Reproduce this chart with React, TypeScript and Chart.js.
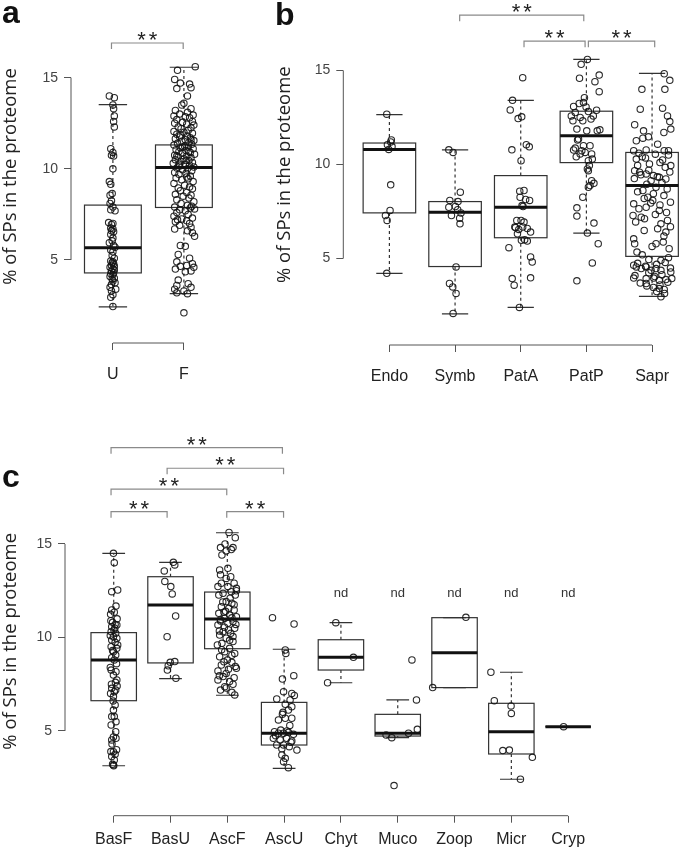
import React, { useEffect, useRef } from "react";
import { Chart, registerables } from "chart.js";
Chart.register(...registerables);

// ---------------- shared ----------------
const yTicks = [5, 10, 15];
const yTitle = "% of SPs in the proteome";

// ---------------- panel a ----------------
const catsA = ["U", "F"];
// [lower whisker, Q1, median, Q3, upper whisker]
const boxA = [
  [2.43, 4.29, 5.67, 8.01, 13.52],
  [3.16, 7.88, 10.07, 11.31, 15.57],
];
// [jitter (category units), value]
const ptsU = [
  [-0.05, 14.0], [0.02, 13.9], [0.0, 13.5], [0.01, 13.3], [0.02, 12.9], [0.01, 12.6], [0.02, 12.3], [-0.03, 11.1],
  [0.0, 10.9], [-0.02, 10.75], [0.01, 10.7], [0.0, 10.0], [-0.05, 9.3], [-0.03, 9.15], [-0.01, 8.65], [-0.04, 8.55],
  [-0.02, 8.25], [-0.04, 8.1], [0.0, 7.9], [-0.03, 7.75], [0.03, 7.7], [-0.06, 7.05], [0.0, 7.0], [-0.02, 6.95],
  [-0.03, 6.75], [0.0, 6.7], [-0.02, 6.6], [0.01, 6.55], [-0.03, 6.4], [0.0, 6.2], [-0.01, 6.05], [-0.05, 5.95],
  [0.01, 5.8], [0.03, 5.7], [-0.03, 5.55], [0.0, 5.45], [-0.01, 5.25], [0.02, 5.1], [-0.03, 4.95], [0.0, 4.9],
  [-0.01, 4.85], [0.01, 4.8], [-0.02, 4.7], [0.02, 4.65], [-0.04, 4.6], [0.0, 4.5], [0.02, 4.45], [-0.02, 4.4],
  [0.01, 4.3], [-0.03, 4.25], [0.0, 4.2], [-0.04, 4.1], [0.02, 4.0], [-0.01, 3.95], [0.0, 3.85], [0.03, 3.75],
  [-0.02, 3.65], [-0.04, 3.5], [0.04, 3.4], [-0.02, 3.3], [0.0, 3.1], [-0.03, 2.95], [0.0, 2.45],
];
const ptsF = [
  [0.16, 15.6], [-0.09, 15.4], [-0.13, 14.9], [-0.05, 14.7], [0.08, 14.65], [0.1, 14.45], [-0.1, 14.4], [0.05, 14.0],
  [0.0, 13.6], [-0.03, 13.5], [0.1, 13.3], [-0.12, 13.2], [0.05, 13.1], [-0.06, 13.0], [0.13, 12.95], [-0.14, 12.9],
  [0.02, 12.85], [0.08, 12.8], [-0.1, 12.7], [0.12, 12.6], [-0.02, 12.55], [-0.13, 12.5], [0.04, 12.45], [0.14, 12.4],
  [-0.08, 12.3], [0.1, 12.25], [-0.04, 12.2], [0.06, 12.1], [-0.14, 12.05], [0.0, 12.0], [0.12, 11.95], [-0.1, 11.9],
  [0.05, 11.8], [-0.06, 11.75], [0.09, 11.7], [-0.12, 11.65], [0.02, 11.6], [0.14, 11.55], [-0.03, 11.5], [0.07, 11.45],
  [-0.09, 11.4], [0.11, 11.35], [-0.14, 11.3], [0.01, 11.25], [0.06, 11.2], [-0.05, 11.15], [0.13, 11.1], [-0.11, 11.05],
  [0.03, 11.0], [-0.07, 10.95], [0.09, 10.9], [-0.02, 10.85], [0.15, 10.8], [-0.13, 10.75], [0.04, 10.7], [-0.08, 10.65],
  [0.1, 10.6], [0.0, 10.55], [-0.12, 10.5], [0.07, 10.45], [-0.04, 10.4], [0.12, 10.35], [-0.15, 10.3], [0.02, 10.25],
  [0.08, 10.2], [-0.06, 10.15], [0.14, 10.1], [-0.1, 10.05], [0.05, 10.0], [-0.02, 9.95], [0.11, 9.9], [-0.13, 9.8],
  [0.03, 9.75], [-0.07, 9.7], [0.09, 9.6], [-0.11, 9.5], [0.06, 9.45], [-0.03, 9.4], [0.13, 9.3], [-0.14, 9.2],
  [0.01, 9.1], [0.08, 9.0], [-0.08, 8.95], [0.12, 8.9], [-0.05, 8.8], [0.04, 8.7], [-0.12, 8.6], [0.1, 8.55],
  [-0.01, 8.5], [0.07, 8.4], [-0.1, 8.3], [0.14, 8.2], [-0.04, 8.1], [0.05, 8.0], [0.11, 7.95], [-0.13, 7.9],
  [0.09, 7.85], [0.15, 7.8], [-0.06, 7.75], [0.02, 7.7], [-0.1, 7.6], [0.06, 7.5], [-0.14, 7.4], [0.12, 7.3],
  [-0.03, 7.25], [-0.09, 7.2], [0.04, 7.15], [-0.12, 7.1], [0.08, 7.0], [-0.06, 6.9], [0.1, 6.8], [-0.13, 6.7],
  [0.05, 6.6], [0.12, 6.5], [0.15, 6.3], [-0.05, 5.8], [0.02, 5.75], [-0.08, 5.3], [0.08, 5.1], [-0.1, 4.9],
  [0.12, 4.8], [0.04, 4.7], [-0.05, 4.65], [0.14, 4.6], [-0.12, 4.5], [0.1, 4.4], [0.02, 4.35], [-0.08, 3.9],
  [0.06, 3.7], [-0.1, 3.6], [0.1, 3.5], [-0.13, 3.4], [0.0, 3.3], [-0.1, 3.2], [0.05, 3.15], [0.0, 2.1],
  [-0.02, 11.2], [0.07, 10.95], [-0.1, 10.7], [0.03, 10.45], [-0.07, 10.25], [0.1, 11.6], [-0.05, 11.85], [0.04, 9.55],
];
// [from category, to category, level]
const bracketsA = [[0.98, 1.99, 16.9]];

// ---------------- panel b ----------------
const catsB = ["Endo", "Symb", "PatA", "PatP", "Sapr"];
const boxB = [
  [4.22, 7.43, 10.8, 11.14, 12.65],
  [2.07, 4.58, 7.47, 8.03, 10.78],
  [2.41, 6.11, 7.73, 9.41, 13.41],
  [6.36, 10.1, 11.52, 12.83, 15.58],
  [3.0, 5.12, 8.88, 10.64, 14.84],
];
const ptsEndo = [
  [-0.04, 12.67], [0.03, 11.3], [0.02, 11.2], [-0.03, 11.05], [0.04, 10.95], [-0.01, 10.8], [0.02, 8.92],
  [0.01, 7.56], [-0.06, 7.29], [-0.035, 7.03], [-0.04, 4.22],
];
const ptsSymb = [
  [-0.095, 10.78], [-0.03, 10.64], [0.08, 8.53], [-0.08, 8.09], [0.045, 8.03], [0.005, 7.77], [-0.095, 7.73],
  [0.04, 7.6], [0.09, 7.43], [-0.055, 7.29], [0.07, 7.15], [0.075, 6.85], [0.015, 4.56], [-0.085, 3.68],
  [-0.035, 3.5], [0.015, 3.15], [-0.03, 2.09],
];
const ptsPatA = [
  [0.03, 14.61], [-0.125, 13.41], [-0.16, 12.9], [-0.04, 12.44], [0.015, 12.53], [-0.135, 10.78], [0.005, 10.2],
  [0.085, 11.05], [0.13, 10.94], [0.05, 8.62], [-0.015, 8.58], [-0.01, 8.26], [0.075, 8.14], [0.135, 8.09],
  [0.02, 7.82], [0.035, 7.77], [-0.06, 7.03], [0.005, 7.03], [0.05, 6.94], [-0.09, 6.68], [0.03, 6.68],
  [-0.05, 6.32], [0.15, 6.41], [0.01, 5.97], [0.1, 5.93], [-0.18, 5.58], [0.15, 5.09], [0.175, 4.82],
  [-0.13, 3.94], [-0.1, 3.59], [0.15, 3.98], [-0.02, 2.41], [-0.03, 6.55], [0.1, 6.6], [0.06, 6.0], [-0.08, 6.65],
];
const ptsPatP = [
  [0.015, 15.58], [-0.08, 15.32], [-0.105, 14.58], [0.195, 14.75], [0.13, 14.4], [0.195, 13.87], [-0.03, 13.55],
  [-0.045, 13.29], [-0.195, 13.08], [-0.11, 13.24], [-0.005, 13.06], [0.155, 12.88], [-0.17, 12.76], [0.03, 12.81],
  [0.105, 12.58], [-0.23, 12.58], [-0.095, 12.5], [0.07, 12.41], [-0.205, 12.32], [-0.055, 12.32], [-0.145, 11.88],
  [0.005, 11.79], [0.165, 11.79], [0.205, 11.84], [-0.12, 11.35], [-0.135, 11.3], [-0.17, 10.87], [-0.045, 11.0],
  [0.055, 11.0], [-0.195, 10.77], [-0.07, 10.73], [-0.02, 10.64], [0.08, 10.56], [-0.155, 10.41], [-0.095, 10.56],
  [0.03, 10.2], [0.09, 10.29], [0.045, 9.94], [0.015, 9.76], [0.03, 9.67], [0.08, 9.14], [0.115, 9.0],
  [0.055, 8.88], [0.03, 8.79], [-0.055, 8.26], [-0.145, 7.7], [-0.145, 7.26], [0.115, 6.89], [0.015, 6.36],
  [0.18, 5.79], [0.09, 4.77], [-0.145, 3.82],
];
const ptsSapr = [
  [0.185, 14.82], [0.27, 14.47], [-0.155, 13.99], [0.195, 13.99], [-0.18, 12.94], [0.16, 12.99], [0.235, 12.58],
  [0.27, 12.28], [-0.265, 12.11], [0.285, 11.88], [0.18, 11.7], [-0.13, 11.79], [-0.24, 11.26], [-0.14, 11.4],
  [-0.055, 11.47], [0.085, 11.08], [-0.28, 10.73], [-0.09, 10.77], [-0.24, 10.29], [0.185, 10.73], [0.25, 10.73],
  [0.16, 10.24], [0.285, 9.94], [-0.15, 10.41], [-0.04, 10.03], [-0.265, 9.67], [-0.19, 9.59], [-0.09, 9.5],
  [0.02, 9.41], [-0.015, 9.14], [0.11, 9.32], [0.21, 9.23], [0.06, 8.79], [-0.14, 8.62], [-0.065, 8.26],
  [0.01, 8.09], [-0.28, 7.91], [-0.09, 7.73], [0.11, 7.56], [-0.29, 7.29], [-0.165, 7.2], [-0.115, 7.12],
  [0.135, 6.85], [0.235, 7.03], [0.085, 6.59], [0.21, 6.41], [-0.265, 5.79], [0.06, 5.79], [0.17, 5.88],
  [0.26, 5.53], [-0.23, 5.35], [0.135, 4.91], [-0.28, 4.65], [-0.24, 4.56], [-0.165, 4.47], [-0.09, 4.56],
  [-0.015, 4.38], [0.06, 4.47], [0.135, 4.38], [0.285, 4.29], [-0.28, 3.97], [-0.09, 3.94], [0.025, 3.97],
  [0.11, 3.85], [0.21, 3.89], [0.3, 3.94], [-0.09, 3.68], [0.02, 3.47], [0.11, 3.41], [0.185, 3.36], [0.135, 2.97],
  [-0.2, 10.6], [0.05, 10.55], [0.25, 10.5], [-0.1, 10.35], [0.12, 10.1], [-0.22, 9.95], [0.2, 9.85], [-0.05, 9.7],
  [0.27, 9.6], [-0.17, 9.45], [0.08, 9.35], [-0.27, 9.25], [0.15, 9.05], [-0.08, 8.95], [0.23, 8.7], [-0.22, 8.55],
  [0.02, 8.45], [0.18, 8.35], [-0.12, 8.2], [0.28, 8.0], [-0.02, 7.95], [0.12, 7.85], [-0.2, 7.65], [0.22, 7.45],
  [0.05, 7.35], [-0.25, 6.95], [0.28, 6.7], [-0.12, 6.5], [0.18, 6.2], [-0.28, 6.05], [0.0, 5.65], [-0.15, 5.2],
  [0.25, 5.05], [-0.05, 4.95], [0.2, 4.8], [-0.22, 4.75], [0.07, 4.7], [-0.1, 4.6], [0.28, 4.5], [-0.05, 4.25],
  [0.15, 4.15], [-0.26, 4.1], [0.04, 4.05], [0.24, 3.75], [-0.18, 3.7], [0.12, 3.6], [-0.08, 3.55], [0.07, 3.25],
  [0.19, 3.15],
];
const bracketsB = [
  [2.07, 3.96, 17.93],
  [3.05, 3.98, 16.55],
  [4.03, 5.04, 16.55],
];

// ---------------- panel c ----------------
const catsC = ["BasF", "BasU", "AscF", "AscU", "Chyt", "Muco", "Zoop", "Micr", "Cryp"];
const boxC = [
  [3.14, 6.62, 8.8, 10.26, 14.5],
  [7.8, 8.64, 11.74, 13.25, 14.02],
  [6.91, 9.4, 10.99, 12.43, 15.6],
  [3.0, 4.25, 4.88, 6.53, 9.37],
  [7.58, 8.26, 8.94, 9.88, 10.79],
  [4.64, 4.73, 4.88, 5.89, 6.66],
  [7.32, 7.32, 9.19, 11.06, 11.06],
  [2.42, 3.77, 4.96, 6.48, 8.14],
  [5.23, 5.23, 5.23, 5.23, 5.23],
];
const ptsBasF = [
  [-0.005, 14.5], [0.01, 14.0], [-0.035, 12.45], [0.07, 12.54], [0.04, 11.68], [-0.035, 11.47], [0.01, 11.35],
  [-0.055, 11.24], [-0.02, 10.81], [0.025, 10.7], [-0.035, 10.58], [0.055, 10.67], [0.005, 10.4], [-0.045, 10.31],
  [0.035, 10.22], [-0.005, 10.04], [0.055, 9.96], [-0.035, 9.87], [0.025, 9.74], [-0.045, 9.51], [0.055, 9.42],
  [-0.005, 9.24], [0.035, 9.06], [-0.035, 8.92], [0.01, 8.8], [-0.045, 8.26], [0.04, 8.17], [-0.005, 7.99],
  [0.055, 7.73], [-0.035, 7.28], [0.035, 7.19], [-0.055, 7.01], [0.01, 7.1], [-0.005, 6.84], [0.025, 6.39],
  [-0.005, 6.12], [-0.035, 5.77], [0.01, 5.77], [-0.045, 5.32], [0.035, 4.96], [-0.005, 4.68], [-0.035, 4.52],
  [0.04, 4.61], [-0.005, 3.89], [0.025, 3.75], [-0.035, 3.63], [0.01, 3.45], [-0.02, 3.22], [-0.005, 3.18],
  [0.06, 11.0], [-0.05, 10.9], [0.02, 10.5], [-0.06, 10.1], [0.07, 9.6], [-0.02, 9.3], [0.05, 8.6], [-0.06, 8.4],
  [0.03, 7.6], [-0.04, 7.5], [0.06, 7.4], [-0.01, 6.6], [0.04, 5.5], [-0.03, 4.3], [0.05, 4.0], [-0.05, 3.9],
  [0.0, 3.14],
];
const ptsBasU = [
  [0.05, 14.02], [0.075, 13.88], [-0.11, 13.56], [-0.1, 13.0], [0.005, 12.72], [0.03, 12.33], [0.09, 11.15],
  [-0.06, 10.04], [-0.005, 8.67], [0.075, 8.71], [-0.04, 8.49], [-0.055, 8.26], [0.095, 7.82],
];
const ptsAscF = [
  [0.03, 15.62], [0.14, 15.34], [-0.12, 14.81], [-0.02, 14.63], [0.1, 14.81], [-0.095, 14.41], [0.01, 13.7],
  [-0.135, 13.61], [0.06, 13.25], [-0.02, 13.16], [0.12, 12.9], [-0.105, 12.9], [-0.165, 12.72], [0.01, 12.72],
  [0.16, 12.63], [-0.075, 12.36], [0.07, 12.45], [-0.15, 12.27], [0.14, 12.27], [-0.02, 11.92], [0.08, 11.83],
  [-0.105, 11.65], [0.025, 11.56], [0.12, 11.47], [-0.06, 11.35], [-0.15, 11.29], [0.04, 11.2], [0.16, 11.11],
  [-0.045, 11.03], [-0.12, 10.88], [0.1, 10.85], [0.01, 10.76], [-0.165, 10.67], [0.13, 10.49], [-0.075, 10.31],
  [0.06, 10.22], [-0.135, 10.13], [-0.02, 9.96], [0.1, 9.78], [-0.095, 9.69], [-0.175, 9.6], [0.04, 9.42],
  [-0.045, 9.24], [0.13, 9.15], [-0.135, 8.97], [0.0, 8.8], [0.08, 8.67], [-0.105, 8.53], [0.16, 8.35],
  [-0.165, 8.21], [-0.02, 8.08], [-0.075, 7.91], [0.12, 7.85], [-0.165, 7.73], [0.04, 7.64], [-0.045, 7.37],
  [-0.12, 7.19], [0.08, 7.07], [0.13, 6.93], [0.05, 12.1], [-0.08, 11.9], [0.12, 11.75], [-0.03, 11.4],
  [0.08, 11.05], [-0.12, 10.95], [0.15, 10.7], [-0.05, 10.55], [0.02, 10.4], [-0.14, 10.35], [0.1, 10.05],
  [0.04, 9.85], [-0.1, 9.35], [0.08, 9.05], [-0.06, 8.7], [0.14, 8.45], [0.02, 8.3], [-0.14, 7.95], [0.1, 7.5],
  [-0.02, 7.3], [0.16, 12.5], [-0.12, 13.35], [0.07, 14.7], [-0.04, 15.0],
];
const ptsAscU = [
  [-0.205, 11.06], [0.175, 10.72], [0.02, 9.33], [0.03, 9.15], [-0.03, 7.78], [0.17, 7.96], [-0.01, 7.1],
  [0.135, 7.01], [-0.13, 6.71], [0.105, 6.66], [0.02, 6.43], [0.135, 6.3], [0.075, 6.12], [-0.03, 5.89],
  [0.02, 5.68], [-0.1, 5.59], [0.135, 5.68], [-0.17, 4.96], [-0.1, 4.88], [-0.01, 4.88], [0.075, 4.93],
  [0.165, 4.82], [-0.19, 4.61], [-0.07, 4.52], [0.045, 4.61], [0.135, 4.47], [-0.13, 4.25], [-0.01, 4.25],
  [0.09, 4.16], [0.225, 3.98], [-0.04, 3.72], [0.02, 3.54], [-0.01, 3.36], [0.075, 3.04], [0.1, 5.3],
  [-0.06, 5.05], [0.05, 5.0], [-0.15, 4.75], [0.12, 4.4], [-0.04, 4.05], [0.18, 6.9], [-0.02, 6.0],
];
const ptsChyt = [[-0.09, 10.79], [0.22, 8.94], [-0.235, 7.58]];
const ptsMuco = [[0.25, 8.8], [0.33, 6.66], [0.345, 5.09], [0.19, 4.88], [-0.105, 4.64], [-0.205, 4.79], [-0.065, 2.08]];
const ptsZoop = [[0.2, 11.08], [-0.385, 7.32]];
const ptsMicr = [[-0.36, 8.14], [-0.3, 6.62], [-0.005, 6.34], [0.0, 5.94], [-0.15, 3.95], [-0.035, 3.98], [0.37, 3.59], [0.16, 2.42]];
const ptsCryp = [[-0.08, 5.23]];
const bracketsC = [
  [0.953, 3.97, 20.15],
  [1.94, 3.99, 19.05],
  [0.953, 2.99, 17.93],
  [0.953, 1.94, 16.73],
  [2.99, 3.99, 16.73],
];
const ndCatsC = [5, 6, 7, 8, 9];
const ndLevelC = 12.36;

// ---------------- panel specs ----------------
type Panel = {
  cats: string[];
  boxes: number[][];
  groups: number[][][];
  brackets: number[][];
  nd?: number[];
  ndLevel?: number;
  letter: string;
  letterX: number;
  letterY: number;
  left: number;
  top: number;
  w: number;
  h: number;
  yAxisW: number;
  xAxisH: number;
  padTop: number;
  padRight: number;
  xMin: number;
  xMax: number;
  yMin: number;
  yMax: number;
  titlePad: number;
  xLabelPad: number;
};

const panels: Panel[] = [
  {
    cats: catsA, boxes: boxA, groups: [ptsU, ptsF], brackets: bracketsA,
    letter: "a", letterX: 2, letterY: 23,
    left: 0, top: 0, w: 235, h: 400, yAxisW: 71, xAxisH: 57, padTop: 10, padRight: 9.2,
    xMin: 0.41, xMax: 2.59, yMin: 0.447, yMax: 18.71, titlePad: 0, xLabelPad: 15,
  },
  {
    cats: catsB, boxes: boxB, groups: [ptsEndo, ptsSymb, ptsPatA, ptsPatP, ptsSapr], brackets: bracketsB,
    letter: "b", letterX: 35, letterY: 25,
    left: 240, top: 0, w: 445, h: 400, yAxisW: 103.3, xAxisH: 55, padTop: 3, padRight: 0,
    xMin: 0.298, xMax: 5.436, yMin: 0.413, yMax: 18.508, titlePad: 34, xLabelPad: 15,
  },
  {
    cats: catsC, boxes: boxC,
    groups: [ptsBasF, ptsBasU, ptsAscF, ptsAscU, ptsChyt, ptsMuco, ptsZoop, ptsMicr, ptsCryp],
    brackets: bracketsC, nd: ndCatsC, ndLevel: ndLevelC,
    letter: "c", letterX: 2, letterY: 87,
    left: 0, top: 400, w: 685, h: 450, yAxisW: 65, xAxisH: 34.3, padTop: 67, padRight: 68,
    xMin: 0.1425, xMax: 9.86, yMin: 0.47, yMax: 19.117, titlePad: 0, xLabelPad: 7.4,
  },
];

const BOX_HALF = 0.4;
const BOX_COLOR = "#333";
const AXIS_COLOR = "#555";
const BRACKET_COLOR = "#8a8a8a";

function decoPlugin(p: Panel) {
  return {
    id: "deco",
    beforeDatasetsDraw(chart: any) {
      const ctx = chart.ctx;
      const xs = chart.scales.x;
      const ys = chart.scales.y;
      ctx.save();
      p.boxes.forEach((b, i) => {
        const c = i + 1;
        const xc = xs.getPixelForValue(c);
        const xl = xs.getPixelForValue(c - BOX_HALF);
        const xr = xs.getPixelForValue(c + BOX_HALF);
        const sl = xs.getPixelForValue(c - BOX_HALF / 2);
        const sr = xs.getPixelForValue(c + BOX_HALF / 2);
        const [lo, q1, med, q3, hi] = b.map((v) => ys.getPixelForValue(v));
        ctx.strokeStyle = BOX_COLOR;
        ctx.lineWidth = 1.2;
        ctx.setLineDash([3, 3]);
        ctx.beginPath();
        if (hi < q3 - 0.5) { ctx.moveTo(xc, q3); ctx.lineTo(xc, hi); }
        if (lo > q1 + 0.5) { ctx.moveTo(xc, q1); ctx.lineTo(xc, lo); }
        ctx.stroke();
        ctx.setLineDash([]);
        ctx.beginPath();
        ctx.moveTo(sl, hi); ctx.lineTo(sr, hi);
        ctx.moveTo(sl, lo); ctx.lineTo(sr, lo);
        ctx.stroke();
        ctx.strokeRect(xl, q3, xr - xl, q1 - q3);
        ctx.strokeStyle = "#111";
        ctx.lineWidth = 3;
        ctx.beginPath();
        ctx.moveTo(xl, med); ctx.lineTo(xr, med);
        ctx.stroke();
      });
      ctx.restore();
    },
    afterDraw(chart: any) {
      const ctx = chart.ctx;
      const xs = chart.scales.x;
      const ys = chart.scales.y;
      const area = chart.chartArea;
      ctx.save();
      // R-style axis lines spanning first..last tick
      ctx.strokeStyle = AXIS_COLOR;
      ctx.lineWidth = 1;
      ctx.beginPath();
      ctx.moveTo(area.left, ys.getPixelForValue(yTicks[0]));
      ctx.lineTo(area.left, ys.getPixelForValue(yTicks[yTicks.length - 1]));
      ctx.moveTo(xs.getPixelForValue(1), area.bottom);
      ctx.lineTo(xs.getPixelForValue(p.cats.length), area.bottom);
      ctx.stroke();
      // significance brackets
      ctx.strokeStyle = BRACKET_COLOR;
      ctx.lineWidth = 1.2;
      ctx.fillStyle = "#222";
      ctx.font = '22px "Liberation Sans", Arial, sans-serif';
      ctx.textAlign = "center";
      ctx.textBaseline = "alphabetic";
      try { (ctx as any).letterSpacing = "3px"; } catch (e) {}
      p.brackets.forEach(([a, b, lvl]) => {
        const x1 = xs.getPixelForValue(a);
        const x2 = xs.getPixelForValue(b);
        const y = ys.getPixelForValue(lvl);
        ctx.beginPath();
        ctx.moveTo(x1, y + 6); ctx.lineTo(x1, y); ctx.lineTo(x2, y); ctx.lineTo(x2, y + 6);
        ctx.stroke();
        ctx.fillText("**", (x1 + x2) / 2 + 1.5, y + 4);
      });
      try { (ctx as any).letterSpacing = "0px"; } catch (e) {}
      // "nd" labels
      if (p.nd && p.ndLevel !== undefined) {
        ctx.font = '13px "Liberation Sans", Arial, sans-serif';
        ctx.textBaseline = "middle";
        ctx.fillStyle = "#333";
        const yy = ys.getPixelForValue(p.ndLevel);
        p.nd.forEach((c) => ctx.fillText("nd", xs.getPixelForValue(c), yy));
      }
      // panel letter
      ctx.font = 'bold 32px "Liberation Sans", Arial, sans-serif';
      ctx.textAlign = "left";
      ctx.textBaseline = "alphabetic";
      ctx.fillStyle = "#111";
      ctx.fillText(p.letter, p.letterX, p.letterY);
      ctx.restore();
    },
  };
}

function makeConfig(p: Panel): any {
  return {
    type: "scatter",
    data: {
      datasets: p.groups.map((g, i) => ({
        label: p.cats[i],
        data: g.map(([j, v]) => ({ x: i + 1 + j, y: v })),
        pointRadius: 3.2,
        pointHoverRadius: 3.2,
        pointBorderWidth: 1.1,
        pointBorderColor: "rgba(20,20,20,0.9)",
        pointBackgroundColor: "rgba(0,0,0,0)",
      })),
    },
    options: {
      animation: false,
      responsive: false,
      maintainAspectRatio: false,
      devicePixelRatio: 1,
      events: [],
      layout: { padding: { left: 0, top: p.padTop, right: p.padRight, bottom: 0 } },
      plugins: { legend: { display: false }, tooltip: { enabled: false } },
      scales: {
        x: {
          type: "linear",
          min: p.xMin,
          max: p.xMax,
          bounds: "data",
          afterBuildTicks: (s: any) => {
            s.ticks = p.cats.map((_, i) => ({ value: i + 1 }));
          },
          afterFit: (s: any) => {
            s.height = p.xAxisH;
            s.paddingLeft = 0; s.paddingRight = 0; s.paddingTop = 0; s.paddingBottom = 0;
          },
          ticks: {
            autoSkip: false,
            maxRotation: 0,
            padding: p.xLabelPad,
            color: "#222",
            font: { family: '"Liberation Sans", Arial, sans-serif', size: 16 },
            callback: (_v: any, idx: number) => p.cats[idx],
          },
          grid: { drawOnChartArea: false, drawTicks: true, tickLength: 7, color: AXIS_COLOR, lineWidth: 1 },
          border: { display: false },
        },
        y: {
          type: "linear",
          min: p.yMin,
          max: p.yMax,
          bounds: "data",
          afterBuildTicks: (s: any) => {
            s.ticks = yTicks.map((v) => ({ value: v }));
          },
          afterFit: (s: any) => {
            s.width = p.yAxisW;
            s.paddingLeft = 0; s.paddingRight = 0; s.paddingTop = 0; s.paddingBottom = 0;
          },
          ticks: {
            padding: 6,
            color: "#444",
            font: { family: '"Liberation Sans", Arial, sans-serif', size: 14 },
          },
          grid: { drawOnChartArea: false, drawTicks: true, tickLength: 7, color: AXIS_COLOR, lineWidth: 1 },
          border: { display: false },
          title: {
            display: true,
            text: yTitle,
            color: "#222",
            font: { family: '"Open Sans", sans-serif', size: 18.5 },
            padding: { top: p.titlePad, bottom: 0 },
          },
        },
      },
    },
    plugins: [decoPlugin(p)],
  };
}

function PanelChart({ p }: { p: Panel }) {
  const ref = useRef<HTMLCanvasElement>(null);
  useEffect(() => {
    const chart = new Chart(ref.current as HTMLCanvasElement, makeConfig(p));
    return () => chart.destroy();
  }, [p]);
  return (
    <canvas
      ref={ref}
      width={p.w}
      height={p.h}
      style={{ position: "absolute", left: p.left, top: p.top, width: p.w, height: p.h }}
    />
  );
}

export default function App() {
  return (
    <div style={{ position: "absolute", left: 0, top: 0, width: 685, height: 850, background: "#fff", overflow: "hidden" }}>
      {panels.map((p) => (
        <PanelChart key={p.letter} p={p} />
      ))}
    </div>
  );
}
